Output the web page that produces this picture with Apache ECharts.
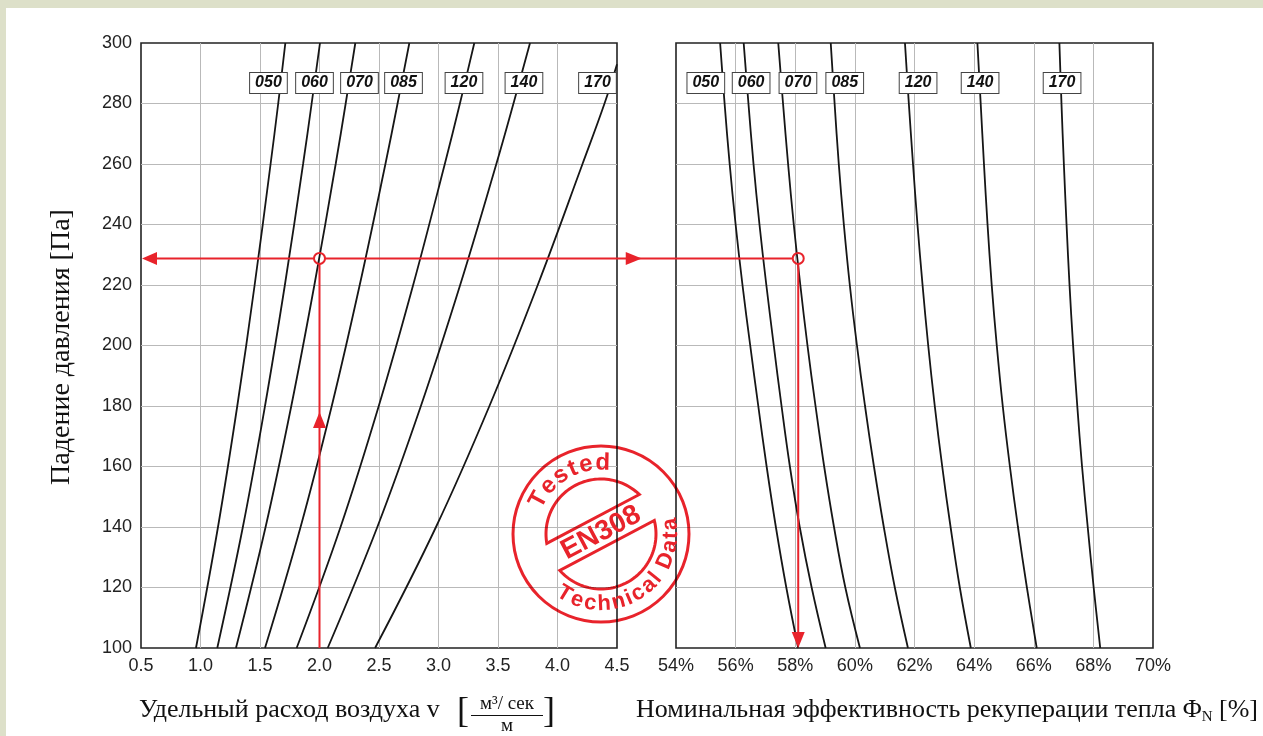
<!DOCTYPE html>
<html><head><meta charset="utf-8">
<script src="https://cdn.jsdelivr.net/npm/echarts@6/dist/echarts.min.js"></script>
<style>
html,body{margin:0;padding:0;width:1263px;height:736px;overflow:hidden;background:#dde0c9;}
#panel{position:absolute;left:6px;top:8px;width:1257px;height:728px;background:#fff;}
#chart{position:absolute;left:0;top:0;width:1263px;height:736px;}
</style></head>
<body><div id="panel"></div><div id="chart"></div>
<script>
// ---------- data ----------
const models = ['050','060','070','085','120','140','170'];

// left panel: pressure drop [Pa] vs specific air flow v
const leftPressure = [100, 140, 180, 220, 260, 280, 300];
const pressure170  = [100, 140, 180, 220, 260, 280, 293];
const flow050 = [0.962, 1.147, 1.309, 1.455, 1.589, 1.653, 1.713];
const flow060 = [1.141, 1.356, 1.542, 1.709, 1.862, 1.934, 2.004];
const flow070 = [1.298, 1.547, 1.763, 1.957, 2.136, 2.220, 2.301];
const flow085 = [1.542, 1.841, 2.103, 2.338, 2.554, 2.656, 2.755];
const flow120 = [1.808, 2.177, 2.498, 2.787, 3.053, 3.180, 3.301];
const flow140 = [2.069, 2.486, 2.852, 3.182, 3.486, 3.630, 3.769];
const flow170 = [2.467, 2.979, 3.428, 3.834, 4.210, 4.395, 4.500];

// right panel: pressure drop [Pa] vs nominal heat recovery efficiency [%]
const rightPressure = [100, 120, 140, 160, 180, 200, 220, 240, 260, 280, 300];
const eff050 = [58.10, 57.70, 57.35, 57.04, 56.76, 56.49, 56.23, 56.00, 55.80, 55.63, 55.48];
const eff060 = [59.02, 58.55, 58.15, 57.82, 57.54, 57.28, 57.03, 56.80, 56.60, 56.43, 56.27];
const eff070 = [60.17, 59.68, 59.30, 58.97, 58.68, 58.41, 58.17, 57.95, 57.76, 57.59, 57.43];
const eff085 = [61.78, 61.34, 60.97, 60.64, 60.34, 60.07, 59.83, 59.63, 59.46, 59.32, 59.19];
const eff120 = [63.89, 63.52, 63.21, 62.93, 62.68, 62.46, 62.27, 62.10, 61.95, 61.81, 61.68];
const eff140 = [66.10, 65.77, 65.47, 65.20, 64.96, 64.76, 64.59, 64.45, 64.33, 64.22, 64.11];
const eff170 = [68.23, 68.01, 67.81, 67.62, 67.46, 67.32, 67.20, 67.10, 67.01, 66.93, 66.86];

// model tag anchors (axis units)
const tagPressure = 286.8;
const leftTagFlow = [1.571, 1.958, 2.336, 2.706, 3.214, 3.718, 4.336];
const rightTagEff = [55.00, 56.52, 58.09, 59.66, 62.12, 64.20, 66.95];

// worked example
const exampleFlow = 2.0;
const examplePressure = 228.8;
const exampleEff = 58.1;
const exampleArrowPressure = 178;

// axes
const flowAxis = {min: 0.5, max: 4.5, step: 0.5};
const effAxis = {min: 54, max: 70, step: 2};
const pressureAxis = {min: 100, max: 300, step: 20};

// ---------- chart ----------
const red = '#e8232b';
const chart = echarts.init(document.getElementById('chart'), null, {renderer: 'canvas'});
const leftFlows = [flow050, flow060, flow070, flow085, flow120, flow140, flow170];
const rightEffs = [eff050, eff060, eff070, eff085, eff120, eff140, eff170];

const tagLabel = {
  show: true, position: 'inside', formatter: '{b}',
  fontFamily: 'Liberation Sans', fontSize: 16, fontWeight: 'bold', fontStyle: 'italic',
  color: '#111', backgroundColor: '#fff', borderColor: '#444', borderWidth: 1,
  padding: [2, 5, 1, 5], lineHeight: 17
};

const series = [];
models.forEach((m, i) => {
  const pr = (m === '170') ? pressure170 : leftPressure;
  series.push({
    type: 'line', xAxisIndex: 0, yAxisIndex: 0, name: 'L' + m,
    data: leftFlows[i].map((v, k) => [v, pr[k]]),
    showSymbol: false, smooth: 0.4, silent: true, z: 3,
    lineStyle: {color: '#161616', width: 1.8},
    markPoint: {
      symbol: 'rect', symbolSize: [1, 1], itemStyle: {color: 'rgba(0,0,0,0)'},
      label: tagLabel, silent: true,
      data: [{name: m, coord: [leftTagFlow[i], tagPressure]}]
    }
  });
  series.push({
    type: 'line', xAxisIndex: 1, yAxisIndex: 1, name: 'R' + m,
    data: rightEffs[i].map((v, k) => [v, rightPressure[k]]),
    showSymbol: false, smooth: 0.4, silent: true, z: 3,
    lineStyle: {color: '#161616', width: 1.8},
    markPoint: {
      symbol: 'rect', symbolSize: [1, 1], itemStyle: {color: 'rgba(0,0,0,0)'},
      label: tagLabel, silent: true,
      data: [{name: m, coord: [rightTagEff[i], tagPressure]}]
    }
  });
});

const axisLabelStyle = {fontFamily: 'Liberation Sans', fontSize: 18, color: '#222'};
const split = {show: true, showMinLine: false, showMaxLine: false, lineStyle: {color: '#b9b9b9', width: 1}};

chart.setOption({
  animation: false,
  textStyle: {fontFamily: 'Liberation Sans'},
  grid: [
    {left: 141, top: 43, width: 476, height: 605, show: true, borderColor: '#222', borderWidth: 1.6, backgroundColor: 'rgba(0,0,0,0)'},
    {left: 676, top: 43, width: 477, height: 605, show: true, borderColor: '#222', borderWidth: 1.6, backgroundColor: 'rgba(0,0,0,0)'}
  ],
  xAxis: [
    {gridIndex: 0, type: 'value', min: flowAxis.min, max: flowAxis.max, interval: flowAxis.step,
     axisLine: {show: false}, axisTick: {show: false}, splitLine: split,
     axisLabel: Object.assign({margin: 9, formatter: v => v.toFixed(1)}, axisLabelStyle)},
    {gridIndex: 1, type: 'value', min: effAxis.min, max: effAxis.max, interval: effAxis.step,
     axisLine: {show: false}, axisTick: {show: false}, splitLine: split,
     axisLabel: Object.assign({margin: 9, formatter: v => v + '%'}, axisLabelStyle)}
  ],
  yAxis: [
    {gridIndex: 0, type: 'value', min: pressureAxis.min, max: pressureAxis.max, interval: pressureAxis.step,
     axisLine: {show: false}, axisTick: {show: false}, splitLine: split,
     axisLabel: Object.assign({margin: 9}, axisLabelStyle)},
    {gridIndex: 1, type: 'value', min: pressureAxis.min, max: pressureAxis.max, interval: pressureAxis.step,
     axisLine: {show: false}, axisTick: {show: false}, splitLine: split,
     axisLabel: {show: false}}
  ],
  series: series
});

// ---------- overlays ----------
const g = [];
const px0 = (x, y) => chart.convertToPixel({gridIndex: 0}, [x, y]);
const px1 = (x, y) => chart.convertToPixel({gridIndex: 1}, [x, y]);

const A = px0(exampleFlow, examplePressure);
const Lax = px0(flowAxis.min, examplePressure);
const Lbottom = px0(exampleFlow, pressureAxis.min);
const Lmax = px0(flowAxis.max, examplePressure);
const B = px1(exampleEff, examplePressure);
const Bbottom = px1(exampleEff, pressureAxis.min);
const Rmin = px1(effAxis.min, examplePressure);
const upTip = px0(exampleFlow, exampleArrowPressure);
const cr = 5.5, aw = 6.5, al = 16;
const line = (x1, y1, x2, y2) => ({type: 'line', z: 20, silent: true,
  shape: {x1, y1, x2, y2}, style: {stroke: red, lineWidth: 2}});
const tri = pts => ({type: 'polygon', z: 20, silent: true, shape: {points: pts}, style: {fill: red}});
const y0 = A[1];
g.push(line(Lax[0] + al - 2, y0, A[0] - cr, y0));
g.push(line(A[0] + cr, y0, B[0] - cr, y0));
g.push(tri([[Lax[0] + 1, y0], [Lax[0] + al, y0 - aw], [Lax[0] + al, y0 + aw]]));
const rtip = Lmax[0] + 0.42 * (Rmin[0] - Lmax[0]);
g.push(tri([[rtip, y0], [rtip - al, y0 - aw], [rtip - al, y0 + aw]]));
g.push(line(A[0], Lbottom[1], A[0], y0 + cr));
g.push(tri([[A[0], upTip[1]], [A[0] - aw, upTip[1] + al], [A[0] + aw, upTip[1] + al]]));
g.push(line(B[0], y0 + cr, B[0], Bbottom[1] - al + 2));
g.push(tri([[B[0], Bbottom[1]], [B[0] - aw, Bbottom[1] - al], [B[0] + aw, Bbottom[1] - al]]));
[A, B].forEach(p => g.push({type: 'circle', z: 21, silent: true, shape: {cx: p[0], cy: p[1], r: cr},
  style: {fill: 'rgba(0,0,0,0)', stroke: red, lineWidth: 2}}));

// ---------- titles ----------
const serif = '"Liberation Serif", "DejaVu Serif", serif';
g.push({type: 'text', z: 10, silent: true, x: 62, y: 347, rotation: Math.PI / 2,
  style: {text: 'Падение давления [Па]', font: '28px ' + serif, fill: '#111', align: 'center', verticalAlign: 'middle'}});
g.push({type: 'text', z: 10, silent: true, x: 139, y: 710,
  style: {text: 'Удельный расход воздуха v', font: '26px ' + serif, fill: '#111', align: 'left', verticalAlign: 'middle'}});
g.push({type: 'text', z: 10, silent: true, x: 463, y: 713,
  style: {text: '[', font: '36px ' + serif, fill: '#111', align: 'center', verticalAlign: 'middle'}});
g.push({type: 'text', z: 10, silent: true, x: 549, y: 713,
  style: {text: ']', font: '36px ' + serif, fill: '#111', align: 'center', verticalAlign: 'middle'}});
g.push({type: 'text', z: 10, silent: true, x: 507, y: 704,
  style: {text: 'м³/ сек', font: '19px ' + serif, fill: '#111', align: 'center', verticalAlign: 'middle'}});
g.push({type: 'line', z: 10, silent: true, shape: {x1: 471, y1: 715.5, x2: 543, y2: 715.5}, style: {stroke: '#111', lineWidth: 1}});
g.push({type: 'text', z: 10, silent: true, x: 507, y: 726,
  style: {text: 'м', font: '19px ' + serif, fill: '#111', align: 'center', verticalAlign: 'middle'}});
g.push({type: 'text', z: 10, silent: true, x: 636, y: 710,
  style: {text: '{t|Номинальная эффективность рекуперации тепла Φ}{s|N}{t| [%]}', align: 'left', verticalAlign: 'middle',
    rich: {t: {font: '26px ' + serif, fill: '#111', lineHeight: 30, verticalAlign: 'middle'},
           s: {font: '15px ' + serif, fill: '#111', lineHeight: 15, verticalAlign: 'bottom'}}}});

// ---------- stamp ----------
const ctx = document.createElement('canvas').getContext('2d');
const scx = 601, scy = 534, SR = 88, sr = 55;
const stampStyle = {fill: 'rgba(0,0,0,0)', stroke: red, lineWidth: 3, blend: 'multiply'};
g.push({type: 'circle', z: 15, silent: true, shape: {cx: scx, cy: scy, r: SR}, style: stampStyle});
const bandAng = -27.85 * Math.PI / 180;
function dShape(centerAng, dist) {
  const half = Math.acos(dist / sr);
  const pts = [];
  for (let k = 0; k <= 60; k++) {
    const t = centerAng - half + 2 * half * k / 60;
    pts.push([scx + sr * Math.cos(t), scy + sr * Math.sin(t)]);
  }
  return {type: 'polygon', z: 15, silent: true, shape: {points: pts}, style: stampStyle};
}
g.push(dShape(bandAng - Math.PI / 2, 17));
g.push(dShape(bandAng + Math.PI / 2, 13));
g.push({type: 'text', z: 15, silent: true, x: 601, y: 533, rotation: -bandAng,
  style: {text: 'EN308', font: 'bold 28px "Liberation Sans"', fill: red, align: 'center', verticalAlign: 'middle', blend: 'multiply'}});
function arcText(str, rad, midDeg, font, spacing, inward) {
  ctx.font = font;
  const chars = [...str];
  const ws = chars.map(ch => ctx.measureText(ch).width);
  const total = ws.reduce((a, b) => a + b, 0) + spacing * (ws.length - 1);
  const mid = midDeg * Math.PI / 180;
  let cum = 0;
  chars.forEach((ch, i) => {
    const s = (cum + ws[i] / 2 - total / 2) / rad;
    const th = inward ? mid - s : mid + s;
    cum += ws[i] + spacing;
    if (ch === ' ') return;
    g.push({type: 'text', z: 15, silent: true,
      x: scx + rad * Math.cos(th), y: scy + rad * Math.sin(th),
      rotation: inward ? -(th - Math.PI / 2) : -(th + Math.PI / 2),
      style: {text: ch, font, fill: red, align: 'center', verticalAlign: 'middle', blend: 'multiply'}});
  });
}
arcText('Tested', 71, 240, 'bold 24px "Liberation Sans"', 3, false);
arcText('Technical Data', 70, 57, 'bold 22px "Liberation Sans"', 1.2, true);

chart.setOption({graphic: {elements: g}});
</script>
</body></html>
